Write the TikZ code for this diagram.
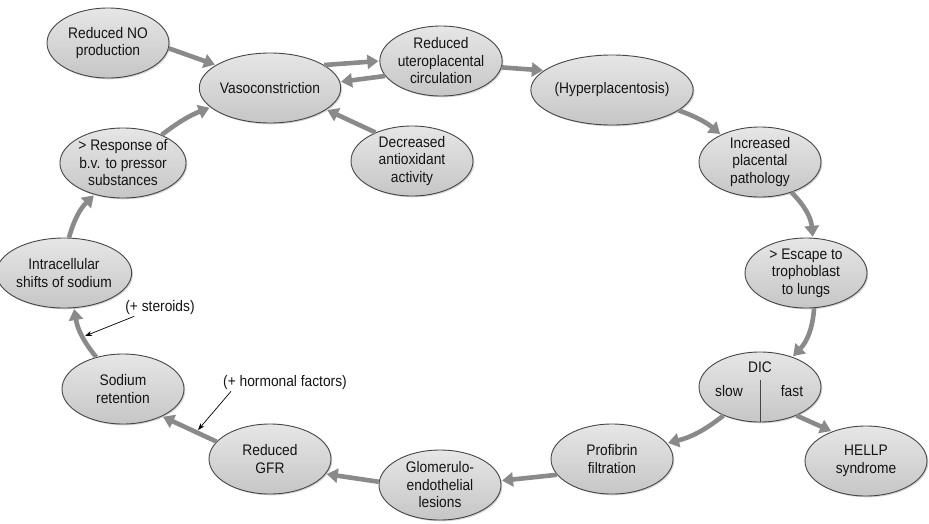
\documentclass[tikz,border=0pt]{standalone}
\usepackage{fontspec}
\setmainfont{Liberation Sans}[FakeStretch=0.9]
\usetikzlibrary{arrows.meta,shapes.geometric,shadows}
\definecolor{arr}{RGB}{138,138,138}
\definecolor{edgec}{RGB}{70,70,70}
\definecolor{txt}{RGB}{20,20,20}
\definecolor{filltop}{RGB}{230,230,230}
\definecolor{fillbot}{RGB}{198,198,198}
\begin{document}
\begin{tikzpicture}[x=1pt,y=-1pt,
  bub/.style={ellipse, draw=edgec, line width=0.9pt, top color=filltop, bottom color=fillbot,
    minimum width=122pt, minimum height=70pt, inner sep=0pt, align=center, text=txt,
    font=\fontsize{15.3}{17.5}\selectfont,
    drop shadow={shadow xshift=1.3pt, shadow yshift=-1.3pt, opacity=0.35}},
  lbl/.style={text=txt, font=\fontsize{15.3}{17.5}\selectfont, inner sep=1pt},
  flow/.style={draw=arr, line width=4.6pt, -{Triangle[length=11pt,width=14pt]}, shorten >=1pt},
  thinarrow/.style={draw=black, line width=0.7pt, -{Stealth[length=7pt,width=5pt]}}
]
\useasboundingbox (0,0) rectangle (929,523);

\node[bub] (no) at (108,43) {Reduced NO\\production};
\node[bub] (vaso) at (270,88) {Vasoconstriction};
\node[bub] (utero) at (441,61) {Reduced\\uteroplacental\\circulation};
\node[bub] (hyper) at (612,90) {(Hyperplacentosis)};
\node[bub] (anti) at (412,161) {Decreased\\antioxidant\\activity};
\node[bub] (resp) at (123,163) {> Response of\\b.v. to pressor\\substances};
\node[bub] (incr) at (760,162) {Increased\\placental\\pathology};
\node[bub] (intra) at (64,273) {Intracellular\\shifts of sodium};
\node[bub] (esc) at (806,273) {> Escape to\\trophoblast\\to lungs};
\node[bub] (sod) at (123,389) {Sodium\\retention};
\node[bub] (dic) at (760,387) {};
\node[bub] (gfr) at (270,459) {Reduced\\GFR};
\node[bub] (hellp) at (866,461) {HELLP\\syndrome};
\node[bub] (glom) at (440,485) {Glomerulo-\\endothelial\\lesions};
\node[bub] (prof) at (612,459) {Profibrin\\filtration};

% DIC internals
\node[lbl] (dicl) at (760,367) {DIC};
\node[lbl] (slow) at (729,391) {slow};
\node[lbl] (fast) at (792,391) {fast};
\draw[edgec, line width=0.7pt] (dic.center) ++(0,-7) -- (dic.south);

% main flow
\draw[flow] (no.-5) -- (vaso.157);
\draw[flow] (vaso.23) -- (utero.180);
\draw[flow] (utero.195) -- (vaso.5);
\draw[flow] (anti.142) -- (vaso.-21);
\draw[flow] (resp.36) to[bend left=8] (vaso.198);
\draw[flow] (utero.-6) -- (hyper.164);
\draw[flow] (hyper.-17) to[bend left=10] (incr.145);
\draw[flow] (incr.-44) to[bend left=20] (esc.79);
\draw[flow] (esc.-77) to[bend left=20] (dic.43);
\draw[flow] (dic.-38) -- (hellp.139);
\draw[flow] (dic.218) to[bend left=12] (prof.16);
\draw[flow] (prof.196) -- (glom.4);
\draw[flow] (glom.177) -- (gfr.-15);
\draw[flow] (gfr.162) -- (sod.-35);
\draw[flow] (sod.130) to[bend left=15] (intra.-74);
\draw[flow] (intra.82) to[bend left=15] (resp.228);

% annotations
\node[lbl] (ster) at (160,308) {(+ steroids)};
\coordinate (sterp) at (85,336);
\draw[thinarrow] ([xshift=10pt]ster.south west) -- (sterp);
\node[lbl] (horm) at (285,383) {(+ hormonal factors)};
\coordinate (hormp) at (198,430);
\draw[thinarrow] ([xshift=9pt]horm.south west) -- (hormp);
\end{tikzpicture}
\end{document}
